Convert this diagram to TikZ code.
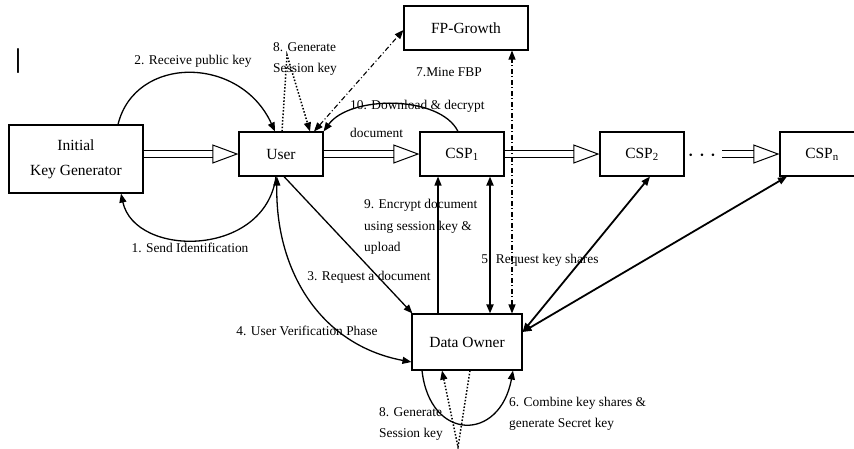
\documentclass[tikz,border=0pt]{standalone}
\usepackage{fontspec}
\setmainfont{Liberation Serif}
\usetikzlibrary{arrows.meta,positioning}

\begin{document}
\begin{tikzpicture}[x=1pt,y=-1pt,
  box/.style={draw,line width=1.1pt,font=\fontsize{15.5}{25}\selectfont,align=center,inner sep=0pt},
  lbl/.style={font=\fontsize{13.4}{21.5}\selectfont,align=left,inner sep=0pt},
  flow/.style={line width=1pt,double,double distance=6pt,-{Triangle[open,line width=1pt,length=26pt,width=19pt]}},
  link/.style={line width=1.3pt,-{Triangle[length=9pt,width=7pt]}},
  both/.style={line width=1.3pt,{Triangle[length=9pt,width=7pt]}-{Triangle[length=9pt,width=7pt]}},
  heavy/.style={both,line width=1.8pt},
  dots/.style={line width=1.5pt,dash pattern=on 1.5pt off 1.8pt,-{Triangle[length=9pt,width=7pt]}},
  mine/.style={line width=1.1pt,dash pattern=on 5pt off 2.5pt on 1pt off 2.5pt,{Triangle[length=9pt,width=7pt]}-{Triangle[length=9pt,width=7pt]}}]
  \useasboundingbox (0,0) rectangle (854,448);
  % boxes
  \node[box,minimum width=134,minimum height=68] (ikg) at (76,159) {Initial\\Key Generator};
  \node[box,minimum width=84,minimum height=44] (user) at (281,154) {User};
  \node[box,minimum width=84,minimum height=44] (csp1) at (462,154) {CSP\textsubscript{1}};
  \node[box,minimum width=84,minimum height=44] (csp2) at (642,154) {CSP\textsubscript{2}};
  \node[box,minimum width=84,minimum height=44] (cspn) at (822,154) {CSP\textsubscript{n}};
  \node[box,minimum width=124,minimum height=44] (fp) at (466,28) {FP-Growth};
  \node[box,minimum width=110,minimum height=56] (owner) at (467,342) {Data Owner};
  \node[font=\fontsize{27}{27}\selectfont\bfseries] (bar) at (18,61) {|};
  % hollow flow arrows
  \draw[flow] ([yshift=5pt]ikg.east) -- (user.west);
  \draw[flow] (user.east) -- (csp1.west);
  \draw[flow] (csp1.east) -- (csp2.west);
  \node[font=\fontsize{28}{28}\selectfont] (more) at (702,156) {$\cdots$};
  \coordinate (more-end) at (722,154);
  \draw[flow] (more-end) -- (cspn.west);
  % key generator and user
  \draw[link] ([xshift=42pt]ikg.north) .. controls (135,55) and (240,55) .. ([xshift=-6pt]user.north);
  \draw[link] ([xshift=-5pt]user.south) .. controls (265,258) and (135,258) .. ([xshift=45pt]ikg.south);
  \node[lbl] (l2) at (193,61) {2. Receive public key};
  \node[lbl] (l1) at (190,248) {1. Send Identification};
  % session key at the user
  \coordinate (upeak) at (287,55);
  \draw[dots] ([xshift=1pt]user.north) -- (upeak) -- ([xshift=29pt]user.north);
  \node[lbl,anchor=west] (l8a) at (273,59) {8. Generate\\Session key};
  % FP-Growth
  \draw[mine] ([xshift=33pt]user.north) -- ([yshift=-2pt]fp.west);
  \draw[mine] ([xshift=45pt]owner.north) -- ([xshift=46pt]fp.south);
  \node[lbl] (l7) at (449,72) {7.Mine FBP};
  % download
  \draw[link] ([xshift=-4pt]csp1.north) .. controls (440,95) and (350,95) .. (user.north east);
  \node[lbl,anchor=west,font=\fontsize{13.4}{28}\selectfont] (l10) at (350,119) {10. Download \& decrypt\\document};
  % user and data owner
  \draw[link] ([xshift=3pt]user.south) -- ([xshift=1pt]owner.north west);
  \node[lbl] (l3) at (369,277) {3. Request a document};
  \draw[both] ([xshift=-4pt]user.south) .. controls (275,270) and (320,345) .. ([yshift=-20pt]owner.west);
  \node[lbl] (l4) at (307,331) {4. User Verification Phase};
  % data owner and the CSPs
  \draw[link] ([xshift=-29pt]owner.north) -- ([xshift=-24pt]csp1.south);
  \node[lbl,anchor=west] (l9) at (364,227) {9. Encrypt document\\using session key \&\\upload};
  \draw[heavy] ([xshift=23pt]owner.north) -- ([xshift=28pt]csp1.south);
  \node[lbl] (l5) at (540,260) {5. Request key shares};
  \draw[heavy] ([yshift=10pt]owner.east) -- ([xshift=8pt]csp2.south);
  \draw[heavy] ([yshift=10pt]owner.east) -- ([xshift=-35pt]cspn.south);
  % secret key and session key at the owner
  \draw[link] ([xshift=-45pt]owner.south) .. controls (430,442) and (500,442) .. ([xshift=46pt]owner.south);
  \node[lbl,anchor=west] (l6) at (509,414) {6. Combine key shares \&\\generate Secret key};
  \coordinate (vbot) at (458,447);
  \draw[dots] ([xshift=3pt]owner.south) -- (vbot) -- ([xshift=-25pt]owner.south);
  \node[lbl,anchor=west] (l8b) at (379,424) {8. Generate\\Session key};
\end{tikzpicture}
\end{document}
